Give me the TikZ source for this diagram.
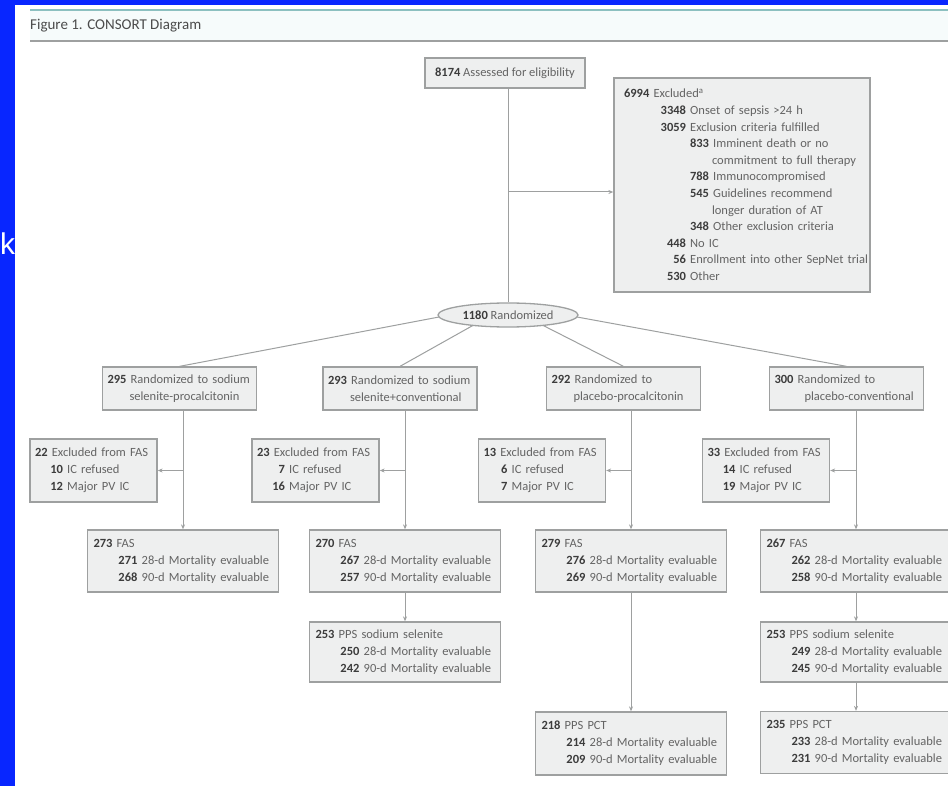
\documentclass[tikz,border=0pt]{standalone}
\usepackage{fontspec}
\setmainfont{Carlito}
\newfontfamily\kfont{Liberation Sans}
\usetikzlibrary{calc,arrows.meta,shapes.geometric}
\definecolor{bgblue}{RGB}{8,38,255}
\definecolor{boxfill}{RGB}{238,239,239}
\definecolor{boxline}{RGB}{158,160,160}
\definecolor{txtgray}{RGB}{100,100,100}
\definecolor{numgray}{RGB}{60,60,60}
\definecolor{rulecyan}{RGB}{140,192,192}
\definecolor{barfill}{RGB}{246,251,251}
\definecolor{titlegray}{RGB}{75,75,75}
\newcommand\cnum[2]{\makebox[#1][r]{\textbf{\color{numgray}#2}}}
\newcommand\bnum[1]{\textbf{\color{numgray}#1}}
\begin{document}
\begin{tikzpicture}[x=1pt,y=-1pt,
  box/.style={draw=boxline, fill=boxfill, line width=1.3pt, text=txtgray,
    font=\fontsize{12.5}{17}\selectfont, align=left, inner ysep=0pt},
  rbox/.style={box, minimum width=154pt, minimum height=43pt, text width=144pt, inner xsep=5pt},
  ebox/.style={box, minimum width=127pt, minimum height=63pt, text width=117pt, inner xsep=5pt},
  fbox/.style={box, minimum width=191pt, minimum height=62pt, text width=179pt, inner xsep=6pt},
  ln/.style={draw=boxline, line width=1pt},
  arr/.style={draw=boxline, line width=1pt, -{Stealth[length=5pt,width=4pt]}}]
\useasboundingbox (0,0) rectangle (948,786);
\fill[bgblue] (0,0) rectangle (948,786);
\fill[white] (15,5) rectangle (948,786);
\node[text=white, font=\kfont\fontsize{30}{30}\selectfont, anchor=base west, inner sep=0pt] (kk) at (0,255) {k};
% title bar
\fill[barfill] (30,11) rectangle (948,41);
\draw[rulecyan, line width=2.5pt] (30,10) -- (948,10);
\draw[boxline, line width=1.5pt] (30,41) -- (948,41);
\node[anchor=west, text=titlegray, font=\fontsize{15}{15}\selectfont, inner sep=0pt] (title) at (30,26) {Figure 1. CONSORT Diagram};
% top
\node[box, align=center, minimum width=160pt, minimum height=30pt, inner xsep=2pt] (A) at (505,73) {\bnum{8174} Assessed for eligibility};
\node[box, font=\fontsize{12.5}{16.6}\selectfont, minimum width=256pt, minimum height=214pt, text width=236pt, inner xsep=10pt] (X) at (742,185) {%
\bnum{6994} Excluded\textsuperscript{a}\\
\cnum{62pt}{3348} Onset of sepsis >24 h\\
\cnum{62pt}{3059} Exclusion criteria fulfilled\\
\cnum{85pt}{833} Imminent death or no\\
\hspace*{88pt}commitment to full therapy\\
\cnum{85pt}{788} Immunocompromised\\
\cnum{85pt}{545} Guidelines recommend\\
\hspace*{88pt}longer duration of AT\\
\cnum{85pt}{348} Other exclusion criteria\\
\cnum{62pt}{448} No IC\\
\makebox[230pt][l]{\cnum{62pt}{56} Enrollment into other SepNet trial}\\
\cnum{62pt}{530} Other};
\node[ellipse, draw=boxline, fill=boxfill, line width=1.3pt, minimum width=140pt, minimum height=24pt, inner sep=0pt, text=txtgray, font=\fontsize{12.5}{17}\selectfont] (R) at (508,315) {\bnum{1180} Randomized};
\draw[ln] (R.north |- A.south) -- (R.north);
\coordinate (xj) at (508,192);
\draw[arr] (xj) -- (xj -| X.west);
% randomized arms
\node[rbox] (B1) at (179.5,388.5) {\bnum{295} Randomized to sodium\\\hspace*{22pt}selenite-procalcitonin};
\node[rbox] (B2) at (400,388.5) {\bnum{293} Randomized to sodium\\\hspace*{22pt}selenite+conventional};
\node[rbox] (B3) at (623.5,388.5) {\bnum{292} Randomized to\\\hspace*{22pt}placebo-procalcitonin};
\node[rbox] (B4) at (846.5,388.5) {\bnum{300} Randomized to\\\hspace*{30pt}placebo-conventional};
\draw[ln] ($(R.center)+(-69,2)$) -- (B1.north);
\draw[ln] ($(R.center)+(-35,10.4)$) -- (B2.north);
\draw[ln] ($(R.center)+(35,10.4)$) -- (B3.north);
\draw[ln] ($(R.center)+(69,2)$) -- (B4.north);
% excluded from FAS
\node[ebox] (E1) at (93.5,470.5) {\bnum{22} Excluded from FAS\\\cnum{28pt}{10} IC refused\\\cnum{28pt}{12} Major PV IC};
\node[ebox] (E2) at (315.5,470.5) {\bnum{23} Excluded from FAS\\\cnum{28pt}{7} IC refused\\\cnum{28pt}{16} Major PV IC};
\node[ebox] (E3) at (542,470.5) {\bnum{13} Excluded from FAS\\\cnum{24pt}{6} IC refused\\\cnum{24pt}{7} Major PV IC};
\node[ebox] (E4) at (766,470.5) {\bnum{33} Excluded from FAS\\\cnum{28pt}{14} IC refused\\\cnum{28pt}{19} Major PV IC};
% FAS
\node[fbox] (F1) at (183,561) {\bnum{273} FAS\\\cnum{44pt}{271} 28-d Mortality evaluable\\\cnum{44pt}{268} 90-d Mortality evaluable};
\node[fbox] (F2) at (405,561) {\bnum{270} FAS\\\cnum{44pt}{267} 28-d Mortality evaluable\\\cnum{44pt}{257} 90-d Mortality evaluable};
\node[fbox] (F3) at (631,561) {\bnum{279} FAS\\\cnum{44pt}{276} 28-d Mortality evaluable\\\cnum{44pt}{269} 90-d Mortality evaluable};
\node[fbox] (F4) at (856,561) {\bnum{267} FAS\\\cnum{44pt}{262} 28-d Mortality evaluable\\\cnum{44pt}{258} 90-d Mortality evaluable};
% PPS
\node[fbox, minimum height=60pt] (P2) at (405,652) {\bnum{253} PPS sodium selenite\\\cnum{44pt}{250} 28-d Mortality evaluable\\\cnum{44pt}{242} 90-d Mortality evaluable};
\node[fbox, minimum height=60pt] (P4) at (856,652) {\bnum{253} PPS sodium selenite\\\cnum{44pt}{249} 28-d Mortality evaluable\\\cnum{44pt}{245} 90-d Mortality evaluable};
\node[fbox, minimum height=63pt] (C3) at (631,743.5) {\bnum{218} PPS PCT\\\cnum{44pt}{214} 28-d Mortality evaluable\\\cnum{44pt}{209} 90-d Mortality evaluable};
\node[fbox, minimum height=62pt] (C4) at (856,742.5) {\bnum{235} PPS PCT\\\cnum{44pt}{233} 28-d Mortality evaluable\\\cnum{44pt}{231} 90-d Mortality evaluable};
% connectors
\draw[arr] (F1.north |- B1.south) -- (F1.north);
\draw[arr] (F2.north |- B2.south) -- (F2.north);
\draw[arr] (F3.north |- B3.south) -- (F3.north);
\draw[arr] (F4.north |- B4.south) -- (F4.north);
\draw[arr] (F1.north |- E1.east) -- (E1.east);
\draw[arr] (F2.north |- E2.east) -- (E2.east);
\draw[arr] (F3.north |- E3.east) -- (E3.east);
\draw[arr] (F4.north |- E4.east) -- (E4.east);
\draw[arr] (F2.south) -- (P2.north);
\draw[arr] (F3.south) -- (C3.north);
\draw[arr] (F4.south) -- (P4.north);
\draw[arr] (P4.south) -- (C4.north);
\end{tikzpicture}
\end{document}
